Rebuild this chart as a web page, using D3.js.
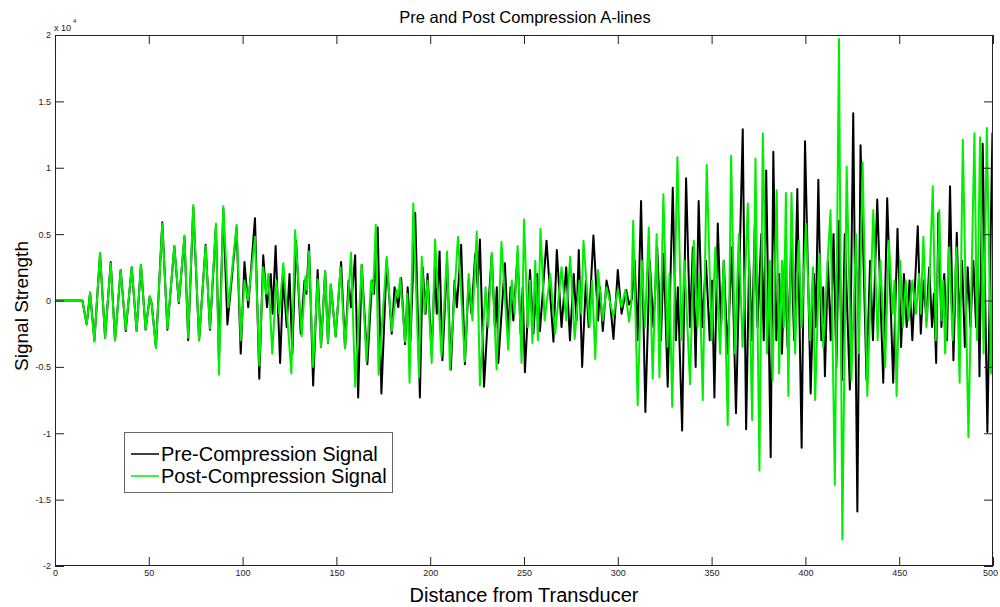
<!DOCTYPE html>
<html>
<head>
<meta charset="utf-8">
<script src="https://cdn.jsdelivr.net/npm/d3@7"></script>
<style>
  body { margin: 0; background: #fff; }
  svg { font-family: "Liberation Sans", Arial, sans-serif; }
</style>
</head>
<body>
<svg id="chart" width="1000" height="607"></svg>
<script>
// values: [distance, signal]
var preSignal = [[0,0],[14.6,0],[16.9,-1800],[18.7,600],[21,-3000],[24,3500],[26.7,-2800],[29.7,2900],[32,-3000],[35,2300],[37.7,-2300],[40.9,2500],[43.5,-2300],[45.8,2700],[48.3,-2200],[50.5,300],[51.5,-200],[53.8,-3500],[57.2,5900],[59.9,-2200],[63.6,4100],[66,-200],[69,4800],[71,-3000],[73.7,7000],[76.8,-3000],[80.3,4200],[82.6,-2200],[85.8,5600],[87.4,-4500],[89.7,6900],[91.9,-1800],[96.8,5500],[99,-4000],[101,2900],[103,-500],[106.6,6200],[108.9,-5900],[111,3400],[113,-500],[115,2000],[116,-1000],[117.6,4100],[120,-4700],[121.7,1800],[123.5,-2000],[125,2000],[126.5,-4000],[128.5,4500],[131,-2500],[133,1500],[134,500],[135.4,4200],[137.6,-6400],[140,2300],[141.8,-3500],[144,2200],[145.5,-3200],[147,1200],[149.6,-2700],[152.5,2900],[154.6,-3600],[156.5,1500],[157.8,-500],[160,3400],[161.6,-7300],[163.5,2700],[166.5,-4800],[169,1500],[170,500],[172,5500],[174,-7000],[176.8,3000],[179.5,-2500],[181,1000],[183,-500],[184.5,1700],[186.6,-3300],[188,1000],[189.5,-3000],[192,6600],[194.5,-7300],[196,2500],[197.5,-1000],[198.6,2000],[200.8,-4000],[202.5,2500],[203.5,-1000],[205,3700],[206.5,-4500],[209,3000],[211,-5200],[213,1500],[214.2,-500],[216.5,4200],[218.5,-4800],[220.5,1500],[222,-1000],[224,3500],[225.3,1000],[226.5,4600],[228.7,-6500],[231,-500],[232.8,3400],[234.5,-2000],[235.5,1000],[236.3,-4700],[239.8,2800],[241.6,-2500],[242.8,1000],[244.3,-1500],[246.6,3500],[248.2,-2500],[249.3,1000],[250.5,-5400],[253.2,2300],[255,-2500],[257,2000],[258.5,-2300],[262,4500],[265.7,-3100],[267.5,3800],[270,-2000],[272.5,2500],[274.5,-3000],[276.5,2000],[278,-1500],[279.2,3800],[281,-5000],[283,1500],[284.5,-2000],[287,4900],[289.5,-1500],[290.5,1000],[292,-2300],[294,1500],[295.5,500],[297.7,-2900],[300,2300],[302,-1000],[304.5,800],[306,-300],[307.5,100],[309,3000],[310.5,-3000],[312.4,7500],[314.7,-8400],[317,3000],[319,-2000],[321,4000],[323,-3000],[324.5,3500],[326.6,-6500],[329.3,8500],[331,-3000],[332,1000],[334.3,-9800],[336.4,9200],[338.5,-2000],[340,4000],[341.5,-5000],[343.1,7500],[345,-2000],[347,3000],[349,-3000],[350.2,1500],[351.5,-7300],[353.3,5800],[355,-2000],[356.5,3000],[358.5,-4000],[360.8,4000],[363,-8500],[366.6,12900],[368.4,-9700],[370,3000],[371.5,-3000],[373,5500],[374.5,-2000],[376.5,5000],[377.8,-3000],[379.1,9800],[381.5,-11800],[382.9,11200],[384.5,-3000],[386,2000],[387.5,-4000],[389,3000],[390.5,-3500],[392.5,4000],[394,-3000],[395.7,8400],[398,-11100],[399.8,12000],[402.8,-7000],[404.5,2000],[405.5,-2000],[406.9,9100],[408.5,-3000],[409.5,1000],[410.4,-5700],[412,3000],[413.5,-3000],[415,5000],[416.5,-5000],[418,6000],[419.5,-6000],[421,5000],[423.7,-6700],[425.5,14100],[427.7,-15900],[429.4,11700],[432.6,-6000],[434.5,3000],[436,-3000],[438.3,7600],[441.5,-6200],[443.6,7700],[446.8,-6200],[449.1,5400],[451,-3500],[452.5,2000],[454,-2000],[455.5,1500],[457,-3000],[459.9,5600],[461.5,-2500],[463,1500],[464.5,-1500],[466,2500],[467.5,-2000],[468.5,500],[469.7,-4700],[470.9,6600],[472.5,-2000],[474,2000],[475.5,-3000],[477.1,8600],[478.9,-4500],[480.7,5100],[482,-2000],[483.5,3000],[485,-3500],[486.5,2500],[488,-2000],[489.5,3000],[491,-2000],[492,2000],[492.8,-5700],[494.5,11800],[497,-9900],[499.7,12600],[500,11900]];

var postSignal = [[0,0],[14.6,0],[16.9,-1800],[18.7,600],[21,-3100],[24,3600],[26.7,-2800],[29.7,2800],[32,-3000],[35,2300],[37.7,-2200],[40.9,2500],[43.5,-2300],[45.8,2700],[48.3,-2200],[50.5,300],[51.5,-200],[53.8,-3600],[57.2,5800],[59.9,-2100],[63.6,4100],[66,-100],[69,4900],[71,-2800],[73.7,7200],[76.8,-3000],[80.3,4100],[82.6,-2100],[85.8,5800],[87.4,-5600],[89.7,7100],[92.4,-500],[96.8,5700],[99,-3000],[101,1500],[103,0],[106.6,4800],[108.9,-4900],[111,2500],[112.5,500],[113.7,2000],[115.8,-4000],[118,1500],[119.5,-1000],[121.7,2800],[126,-5500],[128,5300],[131.5,-2700],[133.5,1800],[134.3,800],[135.4,3700],[137.6,-5000],[140,1600],[141.8,-3500],[144,2200],[145.5,-3200],[147,1200],[149.6,-2700],[152.2,2500],[154.6,-3600],[157.8,3600],[160,-6500],[163.5,2700],[166,-4600],[168.5,1500],[169.5,500],[171,5700],[172.5,-5600],[176.8,3300],[179.5,-2300],[182,800],[183,300],[184,1700],[186.6,-3100],[187.8,500],[189,-6200],[191,7300],[194,-5800],[195.5,3300],[197,-1000],[198.6,1500],[200.8,-4700],[202.6,4600],[206,-4200],[209,3700],[210.5,-5200],[214.8,4800],[218.5,-4600],[220.5,2000],[222.5,-1500],[224.8,5200],[226.5,-6400],[229.5,1000],[231,-2000],[232.8,3600],[235.4,-5200],[238,4400],[241.6,-3700],[243.5,1500],[245,-1000],[246.6,4100],[248.7,-4700],[250,6100],[252,-2000],[253.2,1500],[254.5,-3200],[256,3000],[257.4,-3000],[258.8,5400],[261,-1500],[264,2000],[266.6,-2500],[270,2500],[272.5,-1500],[274.6,3300],[277,-2900],[279.5,1500],[280.5,-1000],[281.7,4500],[285,-2000],[286.3,1500],[288,-4400],[289.5,2300],[292,-1500],[294,1000],[297.6,-1200],[300,800],[302,-500],[304,800],[306,-1600],[307.2,-300],[308.2,6000],[310.6,-7900],[312.8,3000],[314.5,-2000],[316.5,5500],[318.6,-5900],[320.7,5000],[322.2,-5800],[324.3,8000],[326.5,-3500],[327.5,2000],[329,-8000],[331.8,10800],[334,-3000],[335.5,3000],[338.5,-6300],[340.5,4500],[342.5,-2000],[343.5,2000],[345.3,-7500],[347.4,10200],[350,-3000],[352,4000],[354.5,-4000],[356.5,3000],[358.6,-9400],[360.4,10900],[362.5,-4000],[364.5,5000],[366.5,-3500],[369.3,7300],[371.6,-9000],[373.4,10700],[375.5,-12800],[377.3,12600],[379.5,-4000],[381,3000],[382.5,-6000],[384.7,8300],[386,-5500],[387.5,3000],[388.5,-2000],[389.6,8100],[390.9,-7200],[392.6,8100],[394.5,-4000],[396.5,4500],[398,-2000],[400.3,5800],[402.5,-3000],[404,2500],[405.2,-7500],[407.5,3500],[409.5,-3500],[411.5,2000],[413.4,6800],[415.7,-13900],[417.9,19700],[419.7,-18000],[422,10100],[424.5,-6000],[427,5000],[428.5,-4000],[430.5,10400],[433,-7200],[436.2,6800],[438.5,-3000],[440,3000],[442.5,-5000],[444.5,4500],[446.5,-1000],[447.5,1500],[448.6,-7200],[450.5,3000],[452,-2000],[453.5,1500],[455,-1500],[457,1500],[459,-1000],[460.5,2000],[461.5,-1000],[462.9,4800],[464.5,-2000],[466,1000],[467.9,8600],[469.5,-3000],[471.4,6800],[472.5,-1500],[473.5,1500],[474.5,-4000],[476.5,4000],[478.5,-3000],[480.5,4000],[482.2,-6200],[483.9,12100],[486.9,-10300],[490.1,12600],[491.5,-3000],[493.1,12300],[495,-4000],[496.7,13000],[499,-5500],[500,6000]];

var xTicks = [0, 50, 100, 150, 200, 250, 300, 350, 400, 450, 500];
var yTicks = [-20000, -15000, -10000, -5000, 0, 5000, 10000, 15000, 20000];
var seriesNames = ["Pre-Compression Signal", "Post-Compression Signal"];
var seriesColors = ["#000000", "#00ee00"];

var svg = d3.select("#chart");

var x = d3.scaleLinear().domain([0, 500]).range([55, 993]);
var y = d3.scaleLinear().domain([-20000, 20000]).range([566, 35]);

svg.append("defs").append("clipPath").attr("id", "plot")
  .append("rect")
  .attr("x", 55).attr("y", 35)
  .attr("width", 938).attr("height", 531);

// signals
var line = d3.line()
  .x(function(d) { return x(d[0]); })
  .y(function(d) { return y(d[1]); });

var plot = svg.append("g").attr("clip-path", "url(#plot)");
[preSignal, postSignal].forEach(function(s, i) {
  plot.append("path")
    .datum(s)
    .attr("fill", "none")
    .attr("stroke", seriesColors[i])
    .attr("stroke-width", 2)
    .attr("stroke-linejoin", "round")
    .attr("d", line);
});

// axes, ticks pointing inward on all four sides
var axisColor = "#222";
var axBottom = svg.append("g").attr("transform", "translate(0,566)")
  .call(d3.axisBottom(x).tickValues(xTicks).tickSize(-9).tickPadding(4)
    .tickFormat(function(d) { return String(d); }));
var axLeft = svg.append("g").attr("transform", "translate(55,0)")
  .call(d3.axisLeft(y).tickValues(yTicks).tickSize(-9).tickPadding(4)
    .tickFormat(function(d) { return String(d / 10000); }));
var axTop = svg.append("g").attr("transform", "translate(0,35)")
  .call(d3.axisTop(x).tickValues(xTicks).tickSize(-9).tickFormat(""));
var axRight = svg.append("g").attr("transform", "translate(993,0)")
  .call(d3.axisRight(y).tickValues(yTicks).tickSize(-9).tickFormat(""));

[axBottom, axLeft, axTop, axRight].forEach(function(g) {
  g.select(".domain").remove();
  g.selectAll("line").attr("stroke", axisColor);
  g.selectAll("text").attr("fill", "#222").style("font-size", "9px");
});
// last x label sits at the right edge
axBottom.selectAll(".tick text").filter(function(d) { return d === 500; })
  .attr("dx", "-3");

svg.append("rect")
  .attr("x", 55.5).attr("y", 35.5)
  .attr("width", 937).attr("height", 530)
  .attr("fill", "none").attr("stroke", axisColor).attr("stroke-width", 1);

// exponent
svg.append("text").attr("x", 54).attr("y", 31)
  .attr("fill", "#222").style("font-size", "9px").text("x 10");
svg.append("text").attr("x", 73).attr("y", 23)
  .attr("fill", "#222").style("font-size", "6px").text("4");

// title and labels
svg.append("text")
  .attr("x", 525).attr("y", 23)
  .attr("text-anchor", "middle")
  .style("font-size", "16.5px")
  .text("Pre and Post Compression A-lines");

svg.append("text")
  .attr("x", 524).attr("y", 602)
  .attr("text-anchor", "middle")
  .style("font-size", "20px")
  .text("Distance from Transducer");

svg.append("text")
  .attr("transform", "translate(28,306) rotate(-90)")
  .attr("text-anchor", "middle")
  .style("font-size", "19px")
  .text("Signal Strength");

// legend
var legend = svg.append("g");
legend.append("rect")
  .attr("x", 124.5).attr("y", 432.5)
  .attr("width", 268).attr("height", 60)
  .attr("fill", "#fff").attr("stroke", "#666").attr("stroke-width", 1);

seriesNames.forEach(function(name, i) {
  var ly = 454 + i * 22;
  legend.append("line")
    .attr("x1", 131).attr("x2", 159)
    .attr("y1", ly).attr("y2", ly)
    .attr("stroke", seriesColors[i]).attr("stroke-width", 1.5);
  legend.append("text")
    .attr("x", 161).attr("y", ly + 7)
    .style("font-size", "20px")
    .text(name);
});
</script>
</body>
</html>
